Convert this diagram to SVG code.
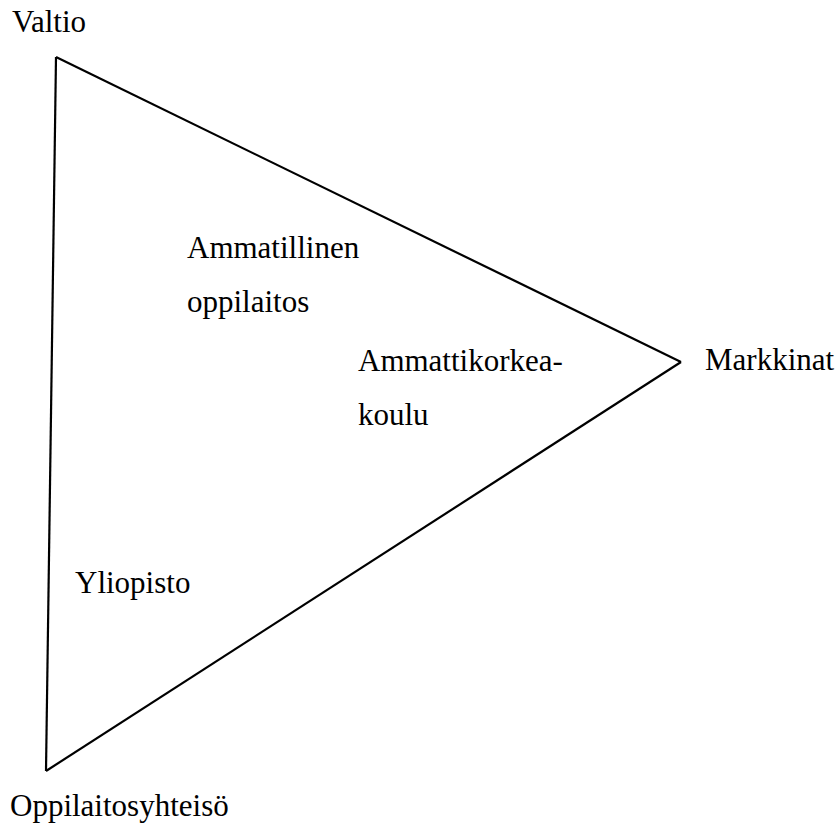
<svg xmlns="http://www.w3.org/2000/svg" width="840" height="825" viewBox="0 0 840 825">
<style>
.e{fill:none;stroke:#000;stroke-width:2.2;stroke-linejoin:miter}
</style>
<rect width="840" height="825" fill="#fff"/>
<g id="connectors">
<path class="e" d="M56,57 L681,362"/>
<path class="e" d="M681,362 L46,771"/>
<path class="e" d="M46,771 L56,57"/>
</g>
<g font-family="'Liberation Serif', 'DejaVu Serif', serif" font-size="31" fill="#000">
<g id="valtio"><text x="12" y="32">Valtio</text></g>
<g id="markkinat"><text x="705" y="370">Markkinat</text></g>
<g id="oppilaitosyhteiso"><text x="10" y="816">Oppilaitosyhteisö</text></g>
<g id="ammatillinen"><text x="187" y="258">Ammatillinen</text><text x="187" y="312">oppilaitos</text></g>
<g id="amk"><text x="358" y="371">Ammattikorkea-</text><text x="358" y="425">koulu</text></g>
<g id="yliopisto"><text x="75" y="593">Yliopisto</text></g>
</g>
</svg>
